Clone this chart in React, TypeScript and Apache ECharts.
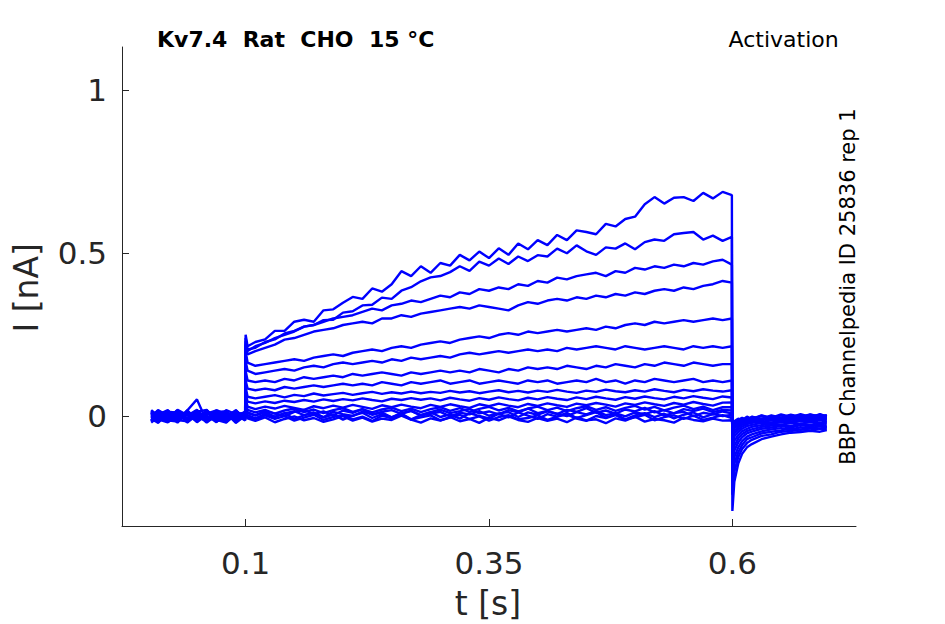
import React, { useEffect, useRef } from "react";
import * as echarts from "echarts";

// sample times [s]: baseline (11), voltage step 0.1–0.6 s (52), tail (14)
const timeS = [
  0.003, 0.01, 0.02, 0.03, 0.04, 0.05, 0.06, 0.07, 0.08, 0.09, 0.0995,
  0.1, 0.102, 0.11, 0.12, 0.13, 0.14, 0.15, 0.16, 0.17, 0.18, 0.19,
  0.2, 0.21, 0.22, 0.23, 0.24, 0.25, 0.26, 0.27, 0.28, 0.29,
  0.3, 0.31, 0.32, 0.33, 0.34, 0.35, 0.36, 0.37, 0.38, 0.39,
  0.4, 0.41, 0.42, 0.43, 0.44, 0.45, 0.46, 0.47, 0.48, 0.49,
  0.5, 0.51, 0.52, 0.53, 0.54, 0.55, 0.56, 0.57, 0.58, 0.59, 0.5995,
  0.6, 0.602, 0.606, 0.61, 0.615, 0.62, 0.63, 0.64, 0.65, 0.66, 0.67, 0.68, 0.69, 0.697,
];

// currents [nA], one array per sweep
const traceA = [
  0.012, -0.014, 0.017, -0.006, 0.013, -0.018, 0.005, 0.016, -0.01, 0.008, 0.003,
  0.25, 0.215, 0.228, 0.236, 0.262, 0.262, 0.29, 0.296, 0.29, 0.325, 0.328,
  0.348, 0.366, 0.36, 0.392, 0.382, 0.405, 0.445, 0.43, 0.46, 0.44,
  0.47, 0.462, 0.495, 0.478, 0.505, 0.485, 0.515, 0.495, 0.53, 0.512,
  0.54, 0.525, 0.556, 0.54, 0.57, 0.565, 0.558, 0.59, 0.582, 0.605,
  0.612, 0.65, 0.672, 0.652, 0.67, 0.672, 0.66, 0.685, 0.668, 0.688, 0.678,
  -0.29, -0.2, -0.145, -0.115, -0.095, -0.085, -0.07, -0.062, -0.055, -0.05, -0.048, -0.044, -0.047, -0.042,
];
const traceB = [
  -0.016, 0.008, -0.004, 0.018, -0.012, 0.006, -0.019, 0.003, 0.014, -0.008, -0.003,
  0.24, 0.205, 0.21, 0.228, 0.236, 0.254, 0.262, 0.275, 0.28, 0.295, 0.296,
  0.318, 0.322, 0.34, 0.342, 0.364, 0.36, 0.385, 0.396, 0.414, 0.426,
  0.43, 0.442, 0.46, 0.446, 0.474, 0.462, 0.484, 0.467, 0.49, 0.476,
  0.494, 0.49, 0.514, 0.5, 0.524, 0.506, 0.495, 0.518, 0.514, 0.53,
  0.512, 0.534, 0.542, 0.538, 0.558, 0.562, 0.565, 0.542, 0.554, 0.538, 0.55,
  -0.24, -0.17, -0.125, -0.1, -0.082, -0.072, -0.06, -0.055, -0.047, -0.045, -0.04, -0.043, -0.037, -0.04,
];
const traceC = [
  0.018, -0.003, -0.015, 0.009, 0.002, 0.02, -0.011, -0.005, 0.011, -0.016, 0.006,
  0.23, 0.2, 0.215, 0.225, 0.24, 0.25, 0.26, 0.275, 0.28, 0.29, 0.3,
  0.305, 0.31, 0.32, 0.33, 0.325, 0.34, 0.345, 0.355, 0.35, 0.36,
  0.37, 0.365, 0.38, 0.375, 0.39, 0.385, 0.395, 0.39, 0.405, 0.4,
  0.415, 0.41, 0.425, 0.42, 0.43, 0.435, 0.44, 0.43, 0.445, 0.44,
  0.455, 0.45, 0.46, 0.455, 0.465, 0.46, 0.47, 0.465, 0.475, 0.48, 0.465,
  -0.2, -0.145, -0.11, -0.088, -0.07, -0.064, -0.052, -0.047, -0.043, -0.037, -0.041, -0.034, -0.038, -0.033,
];
const traceD = [
  -0.006, 0.015, 0.006, -0.019, 0.011, -0.003, 0.014, -0.015, 0.002, 0.018, -0.009,
  0.22, 0.19, 0.2, 0.21, 0.22, 0.235, 0.24, 0.25, 0.26, 0.265, 0.27,
  0.28, 0.285, 0.29, 0.285, 0.3, 0.3, 0.31, 0.305, 0.315, 0.32,
  0.325, 0.33, 0.335, 0.33, 0.34, 0.335, 0.33, 0.325, 0.34, 0.35,
  0.345, 0.355, 0.36, 0.355, 0.365, 0.36, 0.37, 0.365, 0.375, 0.37,
  0.38, 0.375, 0.385, 0.39, 0.385, 0.395, 0.39, 0.4, 0.405, 0.415, 0.41,
  -0.17, -0.125, -0.095, -0.076, -0.062, -0.055, -0.046, -0.04, -0.036, -0.041, -0.033, -0.037, -0.03, -0.034,
];
const traceE = [
  0.012, -0.02, 0.009, 0.003, -0.012, 0.017, -0.006, 0.011, -0.018, 0.005, 0.012,
  0.2, 0.165, 0.155, 0.16, 0.165, 0.17, 0.175, 0.17, 0.18, 0.185, 0.19,
  0.185, 0.195, 0.2, 0.205, 0.2, 0.21, 0.215, 0.21, 0.22, 0.225,
  0.23, 0.225, 0.235, 0.24, 0.245, 0.24, 0.25, 0.255, 0.25, 0.26,
  0.255, 0.26, 0.265, 0.26, 0.265, 0.27, 0.265, 0.275, 0.27, 0.28,
  0.285, 0.28, 0.29, 0.285, 0.29, 0.295, 0.29, 0.295, 0.3, 0.295, 0.3,
  -0.14, -0.105, -0.08, -0.064, -0.052, -0.047, -0.038, -0.034, -0.03, -0.034, -0.027, -0.031, -0.025, -0.029,
];
const traceF = [
  -0.011, 0.005, 0.019, -0.014, 0.006, -0.008, 0.018, -0.002, 0.009, -0.02, 0.002,
  0.17, 0.14, 0.13, 0.135, 0.14, 0.145, 0.14, 0.15, 0.155, 0.15, 0.16,
  0.165, 0.16, 0.165, 0.17, 0.165, 0.175, 0.17, 0.18, 0.175, 0.18,
  0.185, 0.18, 0.19, 0.195, 0.19, 0.195, 0.2, 0.195, 0.2, 0.205,
  0.2, 0.205, 0.2, 0.21, 0.205, 0.21, 0.215, 0.21, 0.205, 0.215,
  0.21, 0.205, 0.21, 0.215, 0.21, 0.205, 0.215, 0.21, 0.215, 0.21, 0.215,
  -0.12, -0.09, -0.068, -0.055, -0.045, -0.04, -0.032, -0.028, -0.025, -0.029, -0.022, -0.026, -0.02, -0.024,
];
const traceG = [
  0.003, 0.017, -0.009, 0.014, -0.019, 0.009, 0.0, -0.012, 0.019, 0.006, -0.013,
  0.14, 0.11, 0.105, 0.11, 0.105, 0.115, 0.11, 0.12, 0.115, 0.12, 0.125,
  0.12, 0.13, 0.125, 0.13, 0.135, 0.13, 0.125, 0.135, 0.13, 0.135,
  0.14, 0.135, 0.14, 0.135, 0.145, 0.14, 0.135, 0.145, 0.14, 0.15,
  0.145, 0.15, 0.145, 0.155, 0.15, 0.145, 0.155, 0.15, 0.16, 0.155,
  0.15, 0.16, 0.155, 0.165, 0.16, 0.155, 0.165, 0.16, 0.155, 0.16, 0.16,
  -0.1, -0.075, -0.058, -0.046, -0.038, -0.032, -0.027, -0.022, -0.026, -0.019, -0.023, -0.017, -0.021, -0.016,
];
const traceH = [
  -0.019, -0.002, 0.012, -0.009, 0.018, 0.052, -0.015, 0.008, -0.005, 0.014, 0.004,
  0.11, 0.085, 0.08, 0.085, 0.08, 0.09, 0.085, 0.09, 0.095, 0.09, 0.095,
  0.1, 0.095, 0.1, 0.095, 0.105, 0.1, 0.095, 0.105, 0.1, 0.105,
  0.11, 0.1, 0.105, 0.11, 0.1, 0.105, 0.11, 0.105, 0.1, 0.11,
  0.105, 0.11, 0.1, 0.105, 0.11, 0.105, 0.115, 0.105, 0.11, 0.1,
  0.11, 0.105, 0.115, 0.11, 0.105, 0.11, 0.115, 0.105, 0.11, 0.105, 0.11,
  -0.085, -0.062, -0.048, -0.038, -0.03, -0.026, -0.02, -0.024, -0.017, -0.021, -0.014, -0.018, -0.012, -0.016,
];
const traceI = [
  0.015, -0.009, -0.018, 0.005, -0.006, 0.014, 0.02, -0.016, 0.003, -0.011, 0.009,
  0.09, 0.06, 0.055, 0.06, 0.065, 0.058, 0.066, 0.062, 0.07, 0.064, 0.068,
  0.072, 0.066, 0.071, 0.075, 0.069, 0.074, 0.07, 0.076, 0.071, 0.075,
  0.072, 0.078, 0.073, 0.077, 0.071, 0.076, 0.08, 0.074, 0.078, 0.073,
  0.079, 0.075, 0.081, 0.076, 0.072, 0.079, 0.075, 0.082, 0.077, 0.074,
  0.08, 0.076, 0.083, 0.078, 0.074, 0.081, 0.077, 0.083, 0.079, 0.076, 0.08,
  -0.07, -0.052, -0.04, -0.031, -0.024, -0.02, -0.015, -0.019, -0.012, -0.016, -0.009, -0.014, -0.008, -0.012,
];
const traceJ = [
  -0.003, 0.019, 0.002, -0.015, 0.015, -0.012, 0.008, 0.018, -0.014, 0.011, -0.006,
  0.07, 0.045, 0.04, 0.046, 0.041, 0.048, 0.044, 0.05, 0.045, 0.052, 0.047,
  0.053, 0.049, 0.055, 0.05, 0.046, 0.054, 0.05, 0.056, 0.051, 0.055,
  0.049, 0.057, 0.052, 0.048, 0.056, 0.051, 0.058, 0.053, 0.049, 0.057,
  0.052, 0.059, 0.054, 0.05, 0.058, 0.053, 0.06, 0.055, 0.051, 0.059,
  0.054, 0.061, 0.056, 0.052, 0.06, 0.055, 0.062, 0.057, 0.053, 0.061, 0.058,
  -0.06, -0.044, -0.033, -0.025, -0.019, -0.015, -0.02, -0.011, -0.015, -0.008, -0.012, -0.006, -0.011, -0.005,
];
const traceK = [
  0.006, -0.016, 0.014, 0.011, -0.018, 0.003, -0.009, 0.013, 0.016, -0.019, 0.008,
  0.055, 0.03, 0.022, 0.03, 0.024, 0.032, 0.026, 0.02, 0.031, 0.025, 0.033,
  0.027, 0.035, 0.029, 0.023, 0.034, 0.028, 0.036, 0.03, 0.025, 0.035,
  0.029, 0.037, 0.031, 0.026, 0.037, 0.031, 0.039, 0.033, 0.028, 0.038,
  0.032, 0.04, 0.034, 0.029, 0.039, 0.034, 0.041, 0.036, 0.03, 0.04,
  0.035, 0.043, 0.037, 0.032, 0.041, 0.036, 0.044, 0.038, 0.033, 0.042, 0.043,
  -0.05, -0.036, -0.027, -0.02, -0.014, -0.018, -0.009, -0.013, -0.006, -0.011, -0.004, -0.009, -0.002, -0.007,
];
const traceL = [
  -0.014, 0.011, -0.008, 0.02, 0.004, -0.016, 0.012, -0.006, -0.015, 0.015, -0.002,
  0.04, 0.02, 0.012, 0.02, 0.008, 0.018, 0.024, 0.013, 0.021, 0.01, 0.019,
  0.025, 0.014, 0.022, 0.012, 0.021, 0.027, 0.016, 0.024, 0.013, 0.022,
  0.028, 0.017, 0.025, 0.014, 0.023, 0.029, 0.018, 0.026, 0.015, 0.024,
  0.03, 0.019, 0.027, 0.016, 0.025, 0.031, 0.02, 0.028, 0.017, 0.026,
  0.032, 0.021, 0.029, 0.018, 0.027, 0.033, 0.022, 0.03, 0.019, 0.028, 0.028,
  -0.045, -0.03, -0.022, -0.015, -0.01, -0.016, -0.006, -0.011, -0.003, -0.008, 0.0, -0.006, 0.002, -0.004,
];
const traceM = [
  0.019, 0.002, 0.008, -0.011, -0.015, 0.012, -0.018, 0.019, 0.006, -0.003, 0.011,
  0.03, 0.012, 0.004, 0.016, 0.009, 0.001, 0.014, 0.02, 0.007, 0.015, 0.003,
  0.018, 0.011, 0.022, 0.006, 0.014, 0.019, 0.008, 0.017, 0.004, 0.013,
  0.021, 0.01, 0.016, 0.023, 0.009, 0.015, 0.006, 0.019, 0.012, 0.024,
  0.01, 0.017, 0.007, 0.02, 0.014, 0.025, 0.011, 0.018, 0.008, 0.021,
  0.015, 0.026, 0.012, 0.019, 0.009, 0.022, 0.016, 0.024, 0.013, 0.02, 0.018,
  -0.04, -0.026, -0.018, -0.011, -0.016, -0.006, -0.012, -0.002, -0.008, 0.001, -0.005, 0.003, -0.003, 0.002,
];
const traceN = [
  -0.008, -0.019, 0.015, 0.0, 0.009, -0.005, 0.016, -0.011, -0.019, 0.012, -0.01,
  0.02, 0.004, -0.006, 0.008, -0.002, 0.01, -0.008, 0.003, 0.012, -0.004, 0.006,
  -0.01, 0.002, 0.011, -0.005, 0.007, -0.003, 0.009, -0.009, 0.004, 0.013,
  -0.002, 0.006, -0.007, 0.01, 0.001, -0.006, 0.008, -0.003, 0.012, 0.002,
  -0.008, 0.007, -0.001, 0.011, -0.005, 0.004, 0.013, -0.004, 0.006, -0.009,
  0.003, 0.01, -0.002, 0.008, -0.006, 0.005, 0.012, -0.003, 0.007, 0.001, 0.004,
  -0.035, -0.021, -0.013, -0.006, -0.012, -0.001, -0.008, 0.003, -0.004, 0.005, -0.002, 0.006, -0.001, 0.004,
];
const traceO = [
  0.002, 0.012, -0.012, -0.016, 0.019, -0.013, 0.003, -0.018, 0.012, -0.006, 0.015,
  0.01, -0.006, -0.014, -0.003, -0.018, -0.008, 0.0, -0.012, -0.005, -0.017, -0.009,
  0.001, -0.013, -0.004, -0.016, -0.007, -0.011, 0.002, -0.01, -0.019, -0.006,
  -0.013, -0.002, -0.015, -0.008, -0.02, -0.004, -0.012, 0.0, -0.011, -0.017,
  -0.005, -0.014, -0.007, -0.018, -0.003, -0.012, -0.009, -0.021, -0.006, -0.013,
  -0.001, -0.016, -0.008, -0.012, -0.019, -0.004, -0.011, -0.015, -0.007, -0.013, -0.012,
  -0.03, -0.017, -0.009, -0.014, -0.003, -0.01, 0.002, -0.006, 0.004, -0.003, 0.007, -0.002, 0.005, 0.0,
];
const traceP = [
  0.009, -0.007, 0.004, 0.016, -0.017, 0.01, -0.004, 0.007, -0.008, 0.019, -0.012,
  0.025, 0.01, 0.002, 0.013, -0.001, 0.009, 0.016, 0.004, 0.011, -0.002, 0.014,
  0.007, 0.001, 0.015, 0.005, 0.012, -0.003, 0.01, 0.017, 0.003, 0.008,
  0.014, 0.0, 0.011, 0.006, 0.016, 0.002, 0.009, 0.013, -0.002, 0.012,
  0.005, 0.015, 0.008, 0.001, 0.013, 0.006, 0.017, 0.004, 0.01, 0.0,
  0.012, 0.007, 0.016, 0.003, 0.01, 0.014, 0.001, 0.011, 0.006, 0.015, 0.009,
  -0.033, -0.019, -0.011, -0.004, -0.013, -0.002, -0.009, 0.001, -0.006, 0.004, -0.004, 0.005, -0.002, 0.003,
];
const traceQ = [
  -0.012, 0.014, -0.017, 0.001, 0.01, -0.002, -0.014, 0.015, 0.004, -0.009, 0.013,
  0.015, -0.002, -0.01, 0.003, -0.008, 0.001, -0.013, -0.004, 0.005, -0.011, -0.002,
  0.004, -0.009, -0.001, -0.014, 0.002, -0.006, 0.006, -0.01, -0.003, 0.003,
  -0.012, -0.004, 0.005, -0.008, 0.0, -0.013, -0.002, 0.004, -0.009, -0.005,
  0.003, -0.011, -0.001, 0.006, -0.007, -0.014, 0.001, -0.005, 0.004, -0.01,
  -0.003, 0.005, -0.012, -0.002, 0.003, -0.008, 0.002, -0.011, -0.004, 0.004, -0.005,
  -0.028, -0.015, -0.007, -0.012, -0.001, -0.008, 0.003, -0.005, 0.006, -0.002, 0.004, -0.004, 0.007, -0.001,
];

const traces = [
  traceA, traceB, traceC, traceD, traceE, traceF, traceG, traceH, traceI,
  traceJ, traceK, traceL, traceM, traceN, traceO, traceP, traceQ,
];

const xTicks = [0.1, 0.35, 0.6];
const xTickLabels = ["0.1", "0.35", "0.6"];
const yTicks = [0, 0.5, 1];
const yTickLabels = ["0", "0.5", "1"];

const titleText = "Kv7.4  Rat  CHO  15 °C";
const protocolText = "Activation";
const sourceText = "BBP Channelpedia ID 25836 rep 1";
const xName = "t [s]";
const yName = "I [nA]";

const FONT = "'DejaVu Sans', 'Liberation Sans', sans-serif";
const AXIS_COLOR = "#262626";

function labelFor(ticks: number[], labels: string[], v: number): string {
  const i = ticks.findIndex((t) => Math.abs(t - v) < 1e-9);
  return i >= 0 ? labels[i] : "";
}

export default function App() {
  const ref = useRef<HTMLDivElement>(null);

  useEffect(() => {
    if (!ref.current) return;
    const chart = echarts.init(ref.current, null, { renderer: "svg" });
    chart.setOption({
      animation: false,
      backgroundColor: "#ffffff",
      grid: { left: 122, top: 47, width: 734, height: 479, containLabel: false },
      xAxis: {
        type: "value",
        min: -0.027,
        max: 0.727,
        axisLine: { show: true, onZero: false, lineStyle: { color: AXIS_COLOR, width: 1 } },
        axisTick: {
          show: true,
          inside: true,
          length: 7,
          customValues: xTicks,
          lineStyle: { color: AXIS_COLOR, width: 1 },
        },
        axisLabel: {
          show: true,
          customValues: xTicks,
          formatter: (v: number) => labelFor(xTicks, xTickLabels, v),
          fontSize: 31,
          fontFamily: FONT,
          color: AXIS_COLOR,
          margin: 21,
        },
        splitLine: { show: false },
      },
      yAxis: {
        type: "value",
        min: -0.336,
        max: 1.132,
        axisLine: { show: true, onZero: false, lineStyle: { color: AXIS_COLOR, width: 1 } },
        axisTick: {
          show: true,
          inside: true,
          length: 7,
          customValues: yTicks,
          lineStyle: { color: AXIS_COLOR, width: 1 },
        },
        axisLabel: {
          show: true,
          customValues: yTicks,
          formatter: (v: number) => labelFor(yTicks, yTickLabels, v),
          fontSize: 31,
          fontFamily: FONT,
          color: AXIS_COLOR,
          margin: 15,
        },
        splitLine: { show: false },
      },
      graphic: [
        {
          type: "text",
          x: 157,
          y: 39.5,
          silent: true,
          style: {
            text: titleText,
            font: `bold 22px ${FONT}`,
            fill: "#000000",
            align: "left",
            verticalAlign: "middle",
          },
        },
        {
          type: "text",
          x: 838.7,
          y: 39.2,
          silent: true,
          style: {
            text: protocolText,
            font: `22px ${FONT}`,
            fill: "#000000",
            align: "right",
            verticalAlign: "middle",
          },
        },
        {
          type: "text",
          x: 848,
          y: 286.5,
          rotation: Math.PI / 2,
          silent: true,
          style: {
            text: sourceText,
            font: `21px ${FONT}`,
            fill: "#000000",
            align: "center",
            verticalAlign: "middle",
          },
        },
        {
          type: "text",
          x: 488,
          y: 603.6,
          silent: true,
          style: {
            text: xName,
            font: `33px ${FONT}`,
            fill: AXIS_COLOR,
            align: "center",
            verticalAlign: "middle",
          },
        },
        {
          type: "text",
          x: 26.3,
          y: 287.8,
          rotation: Math.PI / 2,
          silent: true,
          style: {
            text: yName,
            font: `33px ${FONT}`,
            fill: AXIS_COLOR,
            align: "center",
            verticalAlign: "middle",
          },
        },
      ],
      series: traces.map((tr) => ({
        type: "line",
        data: timeS.map((t, i) => [t, tr[i]]),
        showSymbol: false,
        symbol: "none",
        silent: true,
        lineStyle: { color: "#0000ff", width: 2.4 },
        emphasis: { disabled: true },
      })),
    });
    return () => chart.dispose();
  }, []);

  return (
    <div
      ref={ref}
      style={{ position: "fixed", left: 0, top: 0, width: 945, height: 624, background: "#ffffff" }}
    />
  );
}
